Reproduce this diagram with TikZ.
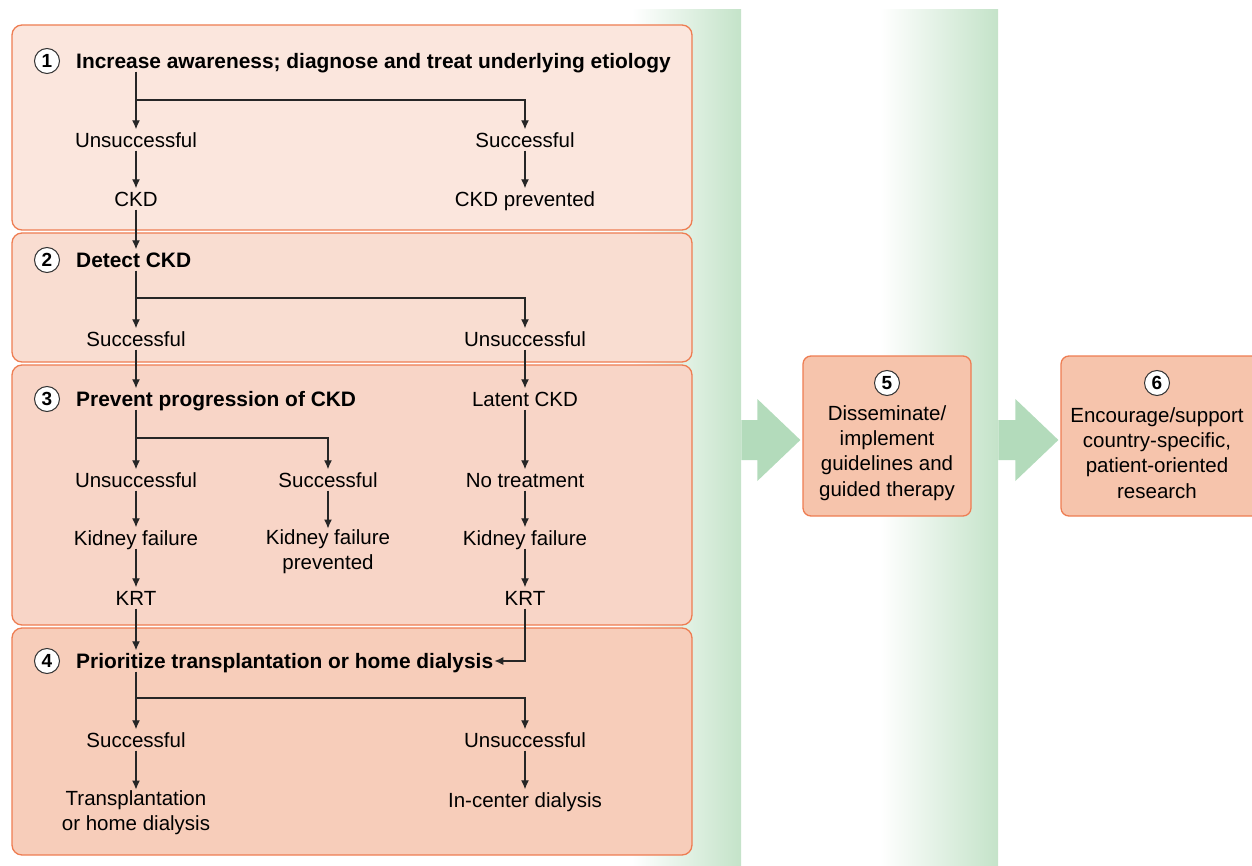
\documentclass[tikz,border=0pt]{standalone}
\usepackage{fontspec}
\setmainfont{Liberation Sans}
\usetikzlibrary{arrows.meta,positioning}

\definecolor{paneli}{HTML}{FBE6DD}
\definecolor{panelii}{HTML}{F9DDD1}
\definecolor{paneliii}{HTML}{F8D5C7}
\definecolor{paneliv}{HTML}{F7CDBA}
\definecolor{boxfill}{HTML}{F6C4AC}
\definecolor{edgeorange}{HTML}{EE7D52}
\definecolor{bandgreen}{HTML}{C4E3C9}
\definecolor{arrowgreen}{HTML}{B3DBBB}

\newcommand{\labelfont}{\fontsize{20.5}{25.3}\selectfont}

\tikzset{
  >={Latex[length=9pt,width=8pt]},
  panel/.style={draw=edgeorange, line width=1.3pt, rounded corners=10pt},
  box/.style={panel, fill=boxfill, rounded corners=8pt},
  lbl/.style={inner sep=1pt, text height=17pt, text depth=2pt},
  lbltwo/.style={inner sep=1pt, align=center},
  head/.style={lbl, font=\fontsize{20.9}{25.3}\selectfont\bfseries},
  num/.style={circle, draw=black!80, fill=white, line width=1pt, minimum size=25pt, inner sep=0pt, font=\fontsize{19}{20}\selectfont\bfseries},
  flow/.style={->, line width=1.3pt, black!85}
}

\begin{document}
\begin{tikzpicture}[x=1pt, y=-1pt, font=\labelfont]
\useasboundingbox (0,0) rectangle (1252,866);
%green bands
\shade[left color=white, right color=bandgreen] (632,10) rectangle (741,866);
\shade[left color=white, right color=bandgreen] (880,10) rectangle (998,866);
%panels
\draw[panel, fill=paneli] (12,25) rectangle (692,230);
\draw[panel, fill=panelii] (12,233) rectangle (692,362);
\draw[panel, fill=paneliii] (12,365) rectangle (692,625);
\draw[panel, fill=paneliv] (12,628) rectangle (692,855);

%panel 1
\node[num] (n1) at (47,61) {1};
\node[head, right=15pt of n1] (t1) {Increase awareness; diagnose and treat underlying etiology};
\node[lbl] (u1) at (136,140) {Unsuccessful};
\node[lbl] (s1) at (525,140) {Successful};
\node[lbl] (c1) at (136,199) {CKD};
\node[lbl] (p1) at (525,199) {CKD prevented};
\coordinate (b1) at (136,100);
\draw[flow] (t1.south -| u1) -- (u1);
\draw[flow] (b1) -| (s1);
\draw[flow] (u1) -- (c1);
\draw[flow] (s1) -- (p1);

%panel 2
\node[num] (n2) at (47,260) {2};
\node[head, right=15pt of n2] (t2) {Detect CKD};
\draw[flow] (c1) -- (c1 |- t2.north);
\node[lbl] (s2) at (136,339) {Successful};
\node[lbl] (u2) at (525,339) {Unsuccessful};
\coordinate (b2) at (136,298);
\draw[flow] (t2.south -| s2) -- (s2);
\draw[flow] (b2) -| (u2);

%panel 3
\node[num] (n3) at (47,399) {3};
\node[head, right=15pt of n3] (t3) {Prevent progression of CKD};
\node[lbl] (l3) at (525,399) {Latent CKD};
\draw[flow] (s2) -- (s2 |- t3.north);
\draw[flow] (u2) -- (l3);
\node[lbl] (u3) at (136,480) {Unsuccessful};
\node[lbl] (s3) at (328,480) {Successful};
\node[lbl] (nt3) at (525,480) {No treatment};
\coordinate (b3) at (136,438);
\draw[flow] (t3.south -| u3) -- (u3);
\draw[flow] (b3) -| (s3);
\draw[flow] (l3) -- (nt3);
\node[lbl] (kf3) at (136,538) {Kidney failure};
\node[lbltwo] (kp3) at (328,552) {Kidney failure\\prevented};
\node[lbl] (kf4) at (525,538) {Kidney failure};
\draw[flow] (u3) -- (kf3);
\draw[flow] (s3) -- (kp3);
\draw[flow] (nt3) -- (kf4);
\node[lbl] (k3) at (136,598) {KRT};
\node[lbl] (k4) at (525,598) {KRT};
\draw[flow] (kf3) -- (k3);
\draw[flow] (kf4) -- (k4);

%panel 4
\node[num] (n4) at (47,661) {4};
\node[head, right=15pt of n4] (t4) {Prioritize transplantation or home dialysis};
\draw[flow] (k3) -- (k3 |- t4.north);
\draw[flow] (k4) |- (t4.east);
\node[lbl] (s4) at (136,740) {Successful};
\node[lbl] (u4) at (525,740) {Unsuccessful};
\coordinate (b4) at (136,698);
\draw[flow] (t4.south -| s4) -- (s4);
\draw[flow] (b4) -| (u4);
\node[lbltwo] (tr4) at (136,813) {Transplantation\\or home dialysis};
\node[lbl] (ic4) at (525,800) {In-center dialysis};
\draw[flow] (s4) -- (tr4);
\draw[flow] (u4) -- (ic4);

%boxes 5 and 6
\node[box, minimum width=168pt, minimum height=160pt] (x5) at (887,436) {};
\node[num] (n5) at (887,383) {5};
\node[lbltwo] (d5) at (887,453) {Disseminate/\\implement\\guidelines and\\guided therapy};
\node[box, minimum width=209pt, minimum height=160pt] (x6) at (1165.5,436) {};
\node[num] (n6) at (1157,383) {6};
\node[lbltwo] (d6) at (1157,453) {Encourage/support\\country-specific,\\patient-oriented\\research};

%green arrows
\fill[arrowgreen] ([shift={(-2,4)}]x5.west) -- ++(-43,-41) -- ++(0,21) -- ++(-16,0) -- ++(0,40) -- ++(16,0) -- ++(0,21) -- cycle;
\fill[arrowgreen] ([shift={(-2,4)}]x6.west) -- ++(-43,-41) -- ++(0,21) -- ++(-17,0) -- ++(0,40) -- ++(17,0) -- ++(0,21) -- cycle;
\end{tikzpicture}
\end{document}
